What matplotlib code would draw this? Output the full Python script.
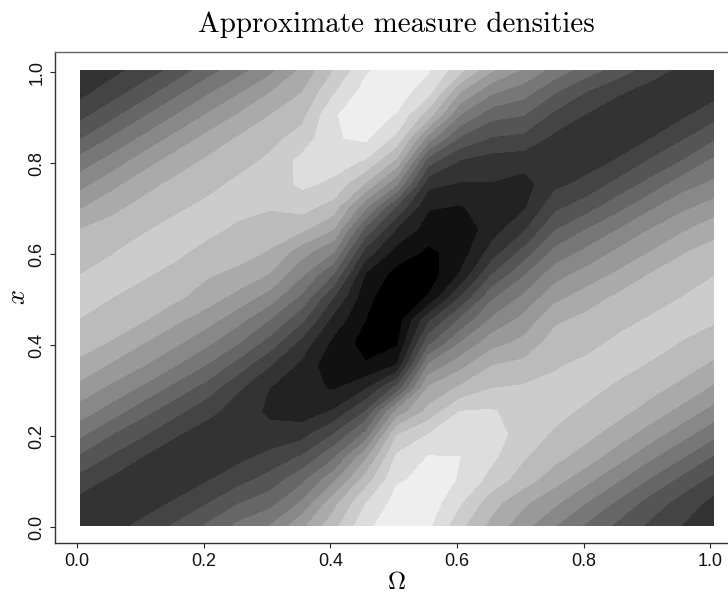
import matplotlib
matplotlib.use("Agg")
import matplotlib.pyplot as plt
import numpy as np

plt.rcParams['font.family'] = ['Liberation Sans', 'DejaVu Sans']
plt.rcParams['mathtext.fontset'] = 'cm'

title = "Approximate measure densities"
x_label = r"$\Omega$"
y_label = r"$x$"
x_ticks = [0.0, 0.2, 0.4, 0.6, 0.8, 1.0]
y_ticks = [0.0, 0.2, 0.4, 0.6, 0.8, 1.0]

# grid positions of the values
omega = [0.005, 0.055, 0.105, 0.155, 0.205, 0.255, 0.305, 0.355, 0.405, 0.455, 0.505,
         0.555, 0.605, 0.655, 0.705, 0.755, 0.805, 0.855, 0.905, 0.955, 1.005]
x_pos = [0.005, 0.055, 0.105, 0.155, 0.205, 0.255, 0.305, 0.355, 0.405, 0.455, 0.505,
         0.555, 0.605, 0.655, 0.705, 0.755, 0.805, 0.855, 0.905, 0.955, 1.005]

# density, as grey-band number, per Omega column, from x = 0 up to x = 1
col_000 = [3.0, 3.6, 4.6, 5.8, 7.2, 8.5, 9.6, 10.7, 11.4, 11.95, 12.4, 12.0, 11.5, 11.0, 9.85, 8.6, 7.4, 5.9, 4.7, 3.7, 3.0]
col_005 = [3.6, 3.2, 3.8, 4.85, 6.0, 7.5, 8.7, 9.8, 10.9, 11.5, 12.0, 12.3, 11.95, 11.4, 10.7, 9.65, 8.4, 7.1, 5.7, 4.55, 3.65]
col_010 = [4.25, 3.5, 3.3, 3.95, 5.1, 6.3, 7.75, 9.0, 10.0, 11.05, 11.6, 12.1, 12.35, 11.9, 11.3, 10.6, 9.5, 8.2, 6.9, 5.5, 4.4]
col_015 = [5.1, 4.1, 3.3, 3.4, 4.1, 5.3, 6.6, 8.0, 9.2, 10.2, 11.2, 11.7, 12.2, 12.3, 11.8, 11.25, 10.45, 9.3, 8.0, 6.7, 5.3]
col_020 = [6.1, 4.9, 3.9, 3.2, 3.5, 4.3, 5.5, 6.9, 8.2, 9.4, 10.5, 11.1, 11.7, 12.25, 12.2, 11.7, 11.15, 10.3, 9.1, 7.85, 6.5]
col_025 = [7.2, 5.9, 4.6, 3.7, 3.1, 3.5, 4.1, 5.5, 7.0, 8.3, 9.6, 10.7, 11.4, 11.8, 12.3, 12.2, 11.65, 11.1, 10.1, 8.9, 7.6]
col_030 = [8.0, 6.6, 5.4, 4.3, 3.3, 2.8, 2.95, 4.0, 5.5, 6.9, 8.5, 9.9, 10.9, 11.5, 12.1, 12.4, 12.2, 11.7, 11.0, 10.0, 8.7]
col_035 = [9.7, 8.1, 6.7, 5.1, 3.6, 2.4, 2.3, 2.7, 3.6, 5.2, 6.7, 8.1, 9.4, 11.2, 12.4, 13.2, 13.3, 12.4, 11.7, 11.0, 10.2]
col_040 = [11.6, 10.6, 8.7, 6.8, 5.0, 3.1, 1.9, 1.2, 1.7, 2.6, 4.0, 5.9, 8.0, 10.0, 11.6, 12.8, 13.4, 13.9, 13.9, 12.9, 12.0]
col_045 = [13.7, 12.9, 11.4, 9.7, 7.2, 5.0, 2.9, 1.1, 0.6, 1.0, 1.3, 1.9, 3.6, 5.7, 8.3, 10.9, 12.9, 14.2, 14.6, 14.4, 13.8]
col_050 = [14.7, 14.4, 13.85, 13.2, 11.9, 9.3, 5.4, 2.1, 0.8, 0.4, 0.2, 0.6, 1.55, 2.9, 4.85, 8.1, 10.7, 12.7, 13.9, 14.5, 14.7]
col_055 = [14.2, 14.6, 14.3, 14.05, 13.0, 11.3, 10.2, 8.2, 5.7, 3.8, 1.1, 0.4, 0.8, 1.5, 2.1, 3.3, 5.4, 8.5, 11.4, 13.3, 14.1]
col_060 = [12.3, 13.1, 13.95, 14.0, 13.6, 13.0, 11.2, 9.7, 8.0, 6.2, 4.0, 2.1, 1.4, 1.3, 1.95, 2.9, 3.9, 5.8, 7.9, 9.9, 12.3]
col_065 = [10.7, 11.4, 12.6, 13.2, 13.5, 13.1, 12.0, 11.0, 9.6, 8.2, 6.8, 5.0, 3.4, 2.5, 2.3, 2.95, 3.5, 4.9, 6.3, 8.1, 10.1]
col_070 = [9.4, 10.2, 11.5, 12.1, 12.5, 12.5, 12.15, 11.3, 10.3, 9.3, 8.2, 6.9, 5.3, 3.8, 2.8, 2.6, 3.4, 4.7, 6.0, 7.4, 8.85]
col_075 = [8.05, 9.2, 10.4, 11.3, 11.85, 12.3, 12.3, 11.9, 11.5, 10.8, 9.7, 8.6, 7.3, 5.9, 4.7, 3.7, 3.1, 3.7, 4.7, 6.0, 7.6]
col_080 = [6.85, 8.0, 9.3, 10.5, 11.3, 11.8, 12.3, 12.25, 11.7, 11.3, 10.5, 9.4, 8.25, 7.0, 5.5, 4.3, 3.5, 3.2, 3.9, 4.9, 6.5]
col_085 = [5.75, 6.8, 8.1, 9.4, 10.5, 11.3, 11.8, 12.3, 12.2, 11.7, 11.2, 10.2, 9.2, 8.0, 6.6, 5.3, 4.1, 3.4, 3.3, 4.1, 5.5]
col_090 = [4.8, 5.6, 6.9, 8.2, 9.5, 10.6, 11.3, 11.9, 12.35, 12.1, 11.6, 11.05, 10.0, 9.0, 7.75, 6.3, 5.1, 3.95, 3.3, 3.5, 4.5]
col_095 = [4.0, 4.6, 5.7, 7.1, 8.4, 9.65, 10.7, 11.4, 11.95, 12.3, 12.0, 11.5, 10.9, 9.8, 8.7, 7.5, 6.0, 4.85, 3.8, 3.2, 3.75]
col_100 = [3.2, 3.7, 4.7, 5.9, 7.3, 8.6, 9.8, 10.8, 11.5, 12.1, 12.5, 11.95, 11.4, 10.6, 9.4, 8.2, 7.2, 5.8, 4.6, 3.6, 3.2]

band_edges = [0, 1, 2, 3, 4, 5, 6, 7, 8, 9, 10, 11, 12, 13, 14, 15]
band_colors = ['#000000', '#111111', '#222222', '#333333', '#444444', '#555555', '#666666', '#777777',
               '#888888', '#999999', '#aaaaaa', '#bbbbbb', '#cccccc', '#dddddd', '#eeeeee']

columns = [col_000, col_005, col_010, col_015, col_020, col_025, col_030, col_035, col_040, col_045, col_050,
           col_055, col_060, col_065, col_070, col_075, col_080, col_085, col_090, col_095, col_100]
Z = np.array(columns).T

W, H = 728, 594
fig = plt.figure(figsize=(W / 100, H / 100), dpi=100)
ax = fig.add_axes([55 / W, 1 - 543 / H, (740 - 55) / W, (543 - 52) / H])
ax.contourf(omega, x_pos, Z, levels=band_edges, colors=band_colors, antialiased=False)
ax.set_xlim(-0.0352, 1.047)
ax.set_ylim(-0.0345, 1.0446)
ax.set_xticks(x_ticks)
ax.set_yticks(y_ticks)
ax.set_xticklabels([f"{t:.1f}" for t in x_ticks])
ax.set_yticklabels([f"{t:.1f}" for t in y_ticks], rotation=90, va='center')
ax.tick_params(axis='both', direction='out', length=3.6, width=0.8, color='#222222',
               labelsize=13, labelcolor='#111111', pad=3.4)
for s in ax.spines.values():
    s.set_linewidth(1.0)
    s.set_color('#333333')
ax.spines['top'].set_color('#666666')

fig.text(396 / W, 1 - 25 / H, title, family='cmr10', fontsize=20.9, ha='center', va='center', color='black')
fig.text(396 / W, 1 - 589 / H, x_label, fontsize=18, ha='center', va='baseline', color='black')
fig.text(18 / W, 1 - 297 / H, y_label, fontsize=19, rotation=90, ha='center', va='center', color='black')

fig.savefig('out.png', dpi=100, facecolor='white')
